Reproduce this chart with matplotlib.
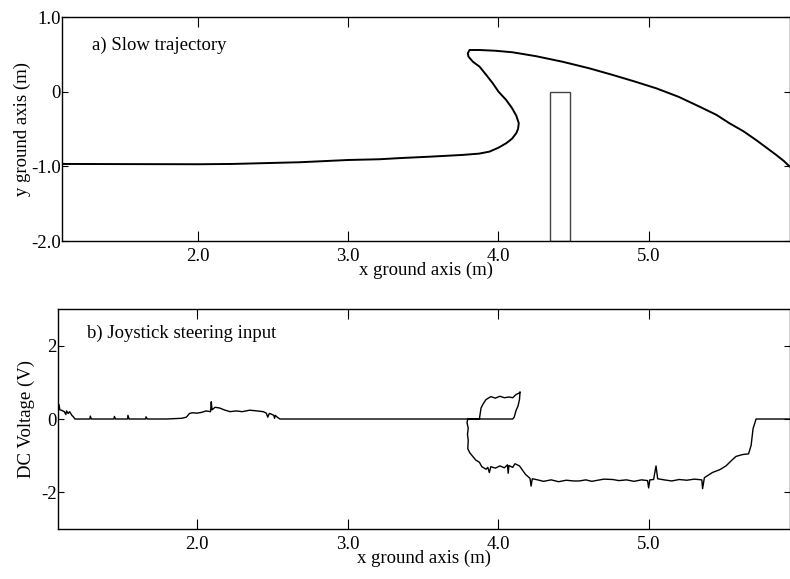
import matplotlib
matplotlib.use("Agg")
import matplotlib.pyplot as plt
from matplotlib.patches import Rectangle

plt.rcParams['font.family'] = ['Liberation Serif', 'DejaVu Serif']
plt.rcParams['font.size'] = 13.5

# a) slow trajectory (x, y in metres)
traj_x = [1.095, 1.5, 2.01, 2.23, 2.68, 3.0, 3.21, 3.34, 3.55, 3.762, 3.87, 3.94, 4.0,
          4.051, 4.09, 4.118, 4.13, 4.135, 4.118, 4.09, 4.051, 4.0, 3.962, 3.92,
          3.874, 3.83, 3.80, 3.796, 3.807, 3.874, 3.98, 4.095, 4.25, 4.428, 4.6,
          4.76, 4.9, 5.05, 5.2, 5.337, 5.45, 5.537, 5.63, 5.714, 5.79, 5.848, 5.9, 5.936]
traj_y = [-0.968, -0.97, -0.972, -0.968, -0.945, -0.915, -0.905, -0.89, -0.87, -0.847,
          -0.83, -0.803, -0.75, -0.691, -0.63, -0.557, -0.50, -0.423, -0.32, -0.22,
          -0.111, 0.0, 0.112, 0.22, 0.335, 0.40, 0.47, 0.514, 0.558, 0.558, 0.548,
          0.527, 0.475, 0.40, 0.315, 0.224, 0.14, 0.045, -0.07, -0.2, -0.31, -0.423,
          -0.53, -0.647, -0.76, -0.847, -0.93, -1.0]

# obstacle
obst_x = [4.346, 4.479]
obst_y = [-2.0, 0.0]

# b) joystick steering input (x position, DC voltage)
joy_x = [1.078, 1.085, 1.09, 1.10, 1.12, 1.13, 1.135, 1.145, 1.155, 1.17, 1.18, 1.19,
         1.29, 1.292, 1.30, 1.45, 1.452, 1.46, 1.54, 1.542, 1.55, 1.66, 1.662, 1.67,
         1.80, 1.90, 1.93, 1.95, 1.97, 2.00, 2.03, 2.06, 2.09, 2.095, 2.10, 2.12,
         2.15, 2.18, 2.22, 2.26, 2.30, 2.35, 2.40, 2.44, 2.46, 2.47, 2.48, 2.49,
         2.51, 2.515, 2.52, 2.53, 2.55,
         3.874, 3.885, 3.90, 3.918, 3.95, 3.98, 4.01, 4.04, 4.07, 4.095, 4.118,
         4.135, 4.144, 4.14, 4.13, 4.117, 4.105, 4.095, 3.797,
         3.792, 3.80, 3.795, 3.80, 3.797, 3.81, 3.83, 3.85, 3.874, 3.89, 3.918,
         3.93, 3.94, 3.95, 3.98, 4.01, 4.04, 4.06, 4.065, 4.07, 4.095, 4.11, 4.14,
         4.18, 4.21, 4.217, 4.225, 4.25, 4.30, 4.35, 4.40, 4.45, 4.50, 4.537, 4.58,
         4.62, 4.66, 4.70, 4.758, 4.80, 4.85, 4.90, 4.95, 4.99, 4.997, 5.005, 5.03,
         5.046, 5.057, 5.10, 5.15, 5.20, 5.25, 5.30, 5.35, 5.355, 5.367, 5.42, 5.47,
         5.51, 5.55, 5.577, 5.62, 5.66, 5.677, 5.69, 5.71, 5.80, 5.93]
joy_v = [0.28, 0.39, 0.25, 0.24, 0.20, 0.12, 0.22, 0.15, 0.20, 0.10, 0.06, 0.0,
         0.0, 0.08, 0.0, 0.0, 0.07, 0.0, 0.0, 0.10, 0.0, 0.0, 0.06, 0.0,
         0.0, 0.02, 0.05, 0.15, 0.17, 0.16, 0.18, 0.22, 0.20, 0.47, 0.25, 0.32,
         0.30, 0.25, 0.20, 0.22, 0.20, 0.24, 0.22, 0.20, 0.16, 0.05, 0.15, 0.14,
         0.10, 0.02, 0.10, 0.06, 0.0,
         0.0, 0.30, 0.42, 0.53, 0.61, 0.57, 0.62, 0.58, 0.60, 0.58, 0.67,
         0.70, 0.74, 0.53, 0.35, 0.23, 0.05, 0.0, 0.0,
         -0.10, -0.25, -0.42, -0.58, -0.81, -0.92, -1.02, -1.12, -1.18, -1.30, -1.37,
         -1.32, -1.46, -1.30, -1.34, -1.28, -1.33, -1.25, -1.48, -1.27, -1.32, -1.22, -1.28,
         -1.51, -1.62, -1.83, -1.63, -1.65, -1.70, -1.66, -1.71, -1.67, -1.69, -1.69, -1.66,
         -1.70, -1.67, -1.64, -1.65, -1.68, -1.66, -1.70, -1.66, -1.68, -1.88, -1.66, -1.65,
         -1.28, -1.63, -1.66, -1.69, -1.65, -1.67, -1.64, -1.66, -1.90, -1.60, -1.46, -1.38,
         -1.28, -1.12, -1.02, -0.97, -0.95, -0.72, -0.26, 0.0, 0.0, 0.0]

x_ticks = [2.0, 3.0, 4.0, 5.0]
x_tick_labels = ['2.0', '3.0', '4.0', '5.0']
top_y_ticks = [1.0, 0.0, -1.0, -2.0]
top_y_labels = ['1.0', '0', '-1.0', '-2.0']
bot_y_ticks = [2, 0, -2]
bot_y_labels = ['2', '0', '-2']

fig = plt.figure(figsize=(7.9, 5.79), dpi=100)
ax1 = fig.add_axes([62 / 790, 1 - 241 / 579, 1 - 62 / 790, 224 / 579])
ax2 = fig.add_axes([58 / 790, 1 - 529 / 579, 1 - 58 / 790, 220 / 579])

ax1.plot(traj_x, traj_y, color='black', lw=1.4)
ax1.add_patch(Rectangle((obst_x[0], obst_y[0]), obst_x[1] - obst_x[0], obst_y[1] - obst_y[0],
                        fill=False, edgecolor='#444444', lw=1.0))
ax1.set_xlim(1.095, 5.94)
ax1.set_ylim(-2.0, 1.0)
ax1.set_yticks(top_y_ticks)
ax1.set_yticklabels(top_y_labels)
ax1.set_xlabel('x ground axis (m)', labelpad=-2)
ax1.set_ylabel('y ground axis (m)', labelpad=0)
ax1.text(0.041, 0.875, 'a) Slow trajectory', transform=ax1.transAxes, va='center', ha='left')

ax2.plot(joy_x, joy_v, color='black', lw=1.0)
ax2.set_xlim(1.078, 5.935)
ax2.set_ylim(-3.0, 3.0)
ax2.set_yticks(bot_y_ticks)
ax2.set_yticklabels(bot_y_labels)
ax2.set_xlabel('x ground axis (m)', labelpad=-2)
ax2.set_ylabel('DC Voltage (V)', labelpad=4)
ax2.text(0.040, 0.89, 'b) Joystick steering input', transform=ax2.transAxes, va='center', ha='left')

for ax in (ax1, ax2):
    ax.set_xticks(x_ticks)
    ax.set_xticklabels(x_tick_labels)
    ax.tick_params(axis='x', direction='in', top=True, length=7, width=0.8, pad=5)
    ax.tick_params(axis='y', direction='in', right=True, length=4, width=0.8, pad=1)
    for s in ax.spines.values():
        s.set_linewidth(1.0)

fig.savefig('out.png', dpi=100)
